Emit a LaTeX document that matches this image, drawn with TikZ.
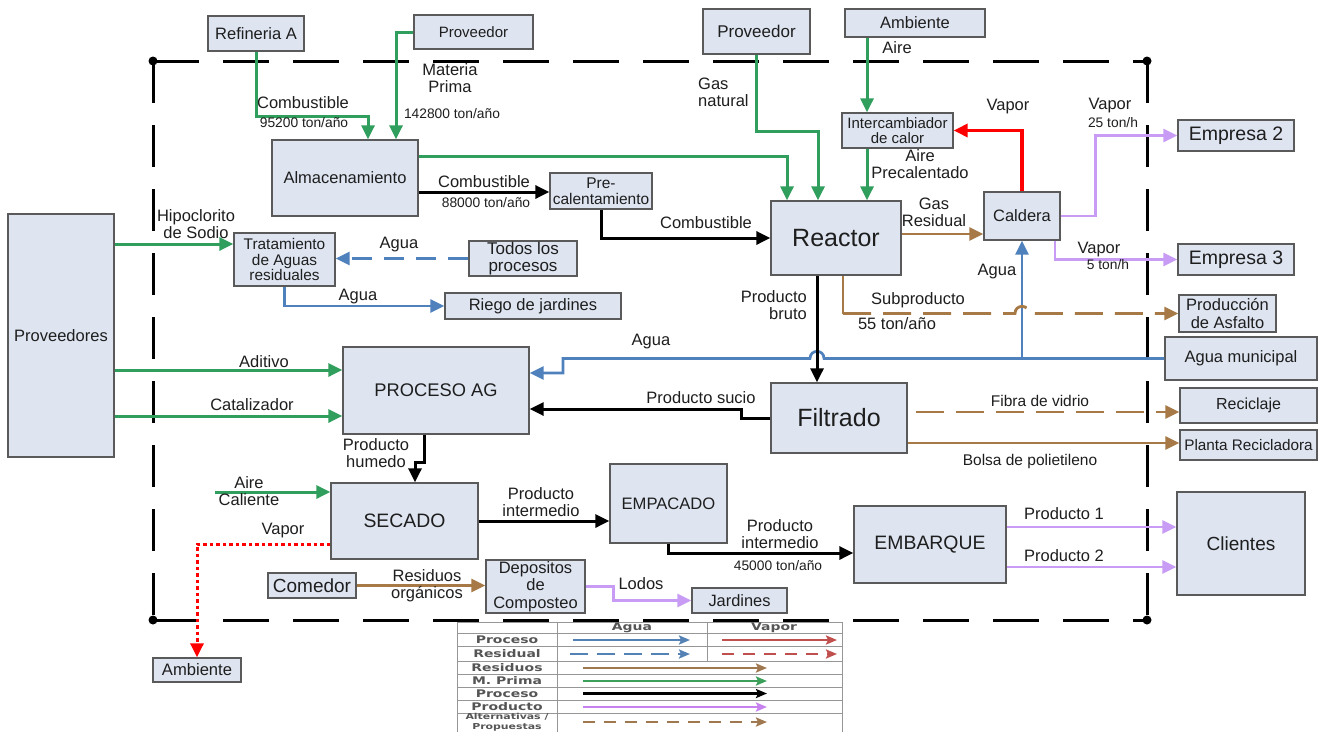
\documentclass[tikz,border=0pt]{standalone}
\usepackage{fontspec}
\setmainfont{Liberation Sans}
\newfontfamily\legfont[FakeStretch=1.33]{DejaVu Sans Bold}
\usetikzlibrary{arrows.meta}

\definecolor{boxfill}{RGB}{222,229,241}
\definecolor{boxline}{RGB}{90,90,90}
\definecolor{mpgreen}{RGB}{48,158,92}
\definecolor{aguablue}{RGB}{79,129,189}
\definecolor{resbrown}{RGB}{166,121,70}
\definecolor{prodpurple}{RGB}{200,155,245}
\definecolor{vaporred}{RGB}{255,0,0}
\definecolor{legred}{RGB}{192,80,77}
\definecolor{legblue}{RGB}{84,130,180}
\definecolor{leggreen}{RGB}{60,160,90}
\definecolor{legpurple}{RGB}{200,130,240}
\definecolor{legbrown}{RGB}{160,120,80}
\definecolor{legtext}{RGB}{85,85,85}
\definecolor{tabline}{RGB}{150,150,150}
\definecolor{txt}{RGB}{30,30,30}

\newcommand{\fsz}[1]{\fontsize{#1}{17}\selectfont}
\newcommand{\fszb}[2]{\fontsize{#1}{#2}\selectfont}

\tikzset{
  box/.style={draw=boxline, line width=1.3pt, fill=boxfill, inner sep=1pt,
    align=center, text=txt},
  lab/.style={font=\fsz{16.5}, align=center, inner sep=0pt, text=txt},
  labsmall/.style={font=\fsz{13.8}, align=center, inner sep=0pt, text=txt},
  flow/.style={line width=3pt, -{Triangle[length=14pt,width=13pt]}},
  mp/.style={flow, draw=mpgreen},
  agua/.style={flow, draw=aguablue, line width=2.7pt},
  res/.style={flow, draw=resbrown, line width=2.8pt},
  prod/.style={flow, draw=prodpurple, line width=2.8pt},
  proc/.style={flow, draw=black},
  vap/.style={flow, draw=vaporred, line width=3.3pt},
  border/.style={line width=3pt, draw=black},
  tab/.style={draw=tabline, line width=0.9pt},
  legtxt/.style={font=\legfont\fontsize{10.5}{11}\selectfont, text=legtext, inner sep=0pt},
  legarrow/.style={line width=2.4pt, -{Stealth[length=11pt,width=9pt,inset=2pt]}}
}

\begin{document}
\begin{tikzpicture}[x=1pt,y=-1pt]
\useasboundingbox (0,0) rectangle (1320,731);
\fill[white] (0,0) rectangle (1320,731);

% ---------- plant boundary ----------
\coordinate (bTL) at (153,61);
\coordinate (bTR) at (1147,61);
\coordinate (bBL) at (153,620);
\coordinate (bBR) at (1147,620);
\draw[border, dash pattern=on 46pt off 24pt] (bTL) -- (bTR);
\draw[border, dash pattern=on 46pt off 24pt] (bBL) -- (bBR);
\draw[border, dash pattern=on 42pt off 22pt] (bTL) -- (bBL);
\draw[border, dash pattern=on 42pt off 22pt] (bTR) -- (bBR);
\foreach \c in {bTL,bTR,bBL,bBR} \fill (\c) circle[radius=4.5pt];

% ---------- blocks ----------
\node[box, minimum width=96pt, minimum height=35pt, font=\fsz{16.5}] (refA) at (256,33.5) {Refineria A};
\node[box, minimum width=119pt, minimum height=34pt, font=\fsz{15}] (prov1) at (473.5,32) {Proveedor};
\node[box, minimum width=107pt, minimum height=45pt, font=\fsz{17}] (prov2) at (756.5,31.5) {Proveedor};
\node[box, minimum width=140pt, minimum height=28pt, font=\fsz{16.5}] (ambT) at (915,23) {Ambiente};
\node[box, minimum width=146pt, minimum height=76pt, font=\fsz{16.5}] (alma) at (345,178) {Almacenamiento};
\node[box, minimum width=102pt, minimum height=36pt, font=\fszb{15.5}{16}] (precal) at (601,191) {Pre-\\calentamiento};
\node[box, minimum width=130pt, minimum height=74pt, font=\fsz{25}] (reactor) at (836,238) {Reactor};
\node[box, minimum width=111pt, minimum height=35pt, font=\fszb{15}{15.5}] (inter) at (897.5,130.5) {Intercambiador\\de calor};
\node[box, minimum width=76pt, minimum height=48pt, font=\fsz{16.5}] (caldera) at (1022,216) {Caldera};
\node[box, minimum width=116pt, minimum height=31pt, font=\fsz{19.5}] (emp2) at (1236,135.5) {Empresa 2};
\node[box, minimum width=116pt, minimum height=31pt, font=\fsz{19.5}] (emp3) at (1236,259.5) {Empresa 3};
\node[box, minimum width=97pt, minimum height=37pt, font=\fszb{16.5}{18}] (asf) at (1227.5,313.5) {Producción\\de Asfalto};
\node[box, minimum width=152pt, minimum height=43pt, font=\fsz{16.5}] (aguam) at (1241,358.5) {Agua municipal};
\node[box, minimum width=137pt, minimum height=35pt, font=\fsz{16}] (recic) at (1248.5,405.5) {Reciclaje};
\node[box, minimum width=137pt, minimum height=30pt, font=\fsz{15.3}] (planta) at (1248.5,445) {Planta Recicladora};
\node[box, minimum width=136pt, minimum height=70pt, font=\fsz{25}] (filtrado) at (839,418) {Filtrado};
\node[box, minimum width=186pt, minimum height=87pt, font=\fsz{18.3}] (procag) at (436,390.5) {PROCESO AG};
\node[box, minimum width=147pt, minimum height=76pt, font=\fsz{19.4}] (secado) at (404.5,521) {SECADO};
\node[box, minimum width=117pt, minimum height=79pt, font=\fsz{16.6}] (empac) at (668.5,503.5) {EMPACADO};
\node[box, minimum width=152pt, minimum height=77pt, font=\fsz{19.4}] (embarque) at (930,544.5) {EMBARQUE};
\node[box, minimum width=128pt, minimum height=103pt, font=\fsz{19}] (clientes) at (1241,543.5) {Clientes};
\node[box, minimum width=95pt, minimum height=25pt, font=\fsz{16.4}] (jardines) at (739.5,600.5) {Jardines};
\node[box, minimum width=99pt, minimum height=53pt, font=\fszb{16.5}{17.5}] (depos) at (535.5,586.5) {Depositos\\de\\Composteo};
\node[box, minimum width=88pt, minimum height=25pt, font=\fsz{19}] (comedor) at (312,585.5) {Comedor};
\node[box, minimum width=88pt, minimum height=24pt, font=\fsz{16.6}] (ambB) at (197,670) {Ambiente};
\node[box, minimum width=106pt, minimum height=243pt, font=\fsz{16.5}] (provs) at (61,335.5) {Proveedores};
\node[box, minimum width=101pt, minimum height=53pt, font=\fszb{15.4}{15.7}] (trat) at (284.5,259.5) {Tratamiento\\de Aguas\\residuales};
\node[box, minimum width=108pt, minimum height=35pt, font=\fszb{17}{17}] (todos) at (523,258.5) {Todos los\\procesos};
\node[box, minimum width=176pt, minimum height=26pt, font=\fsz{16.5}] (riego) at (533,306) {Riego de jardines};

% ---------- raw material (green) ----------
\draw[mp] (refA.south) -- ++(0,65) -| ([xshift=23pt]alma.north);
\draw[mp] (prov1.west) -| ([xshift=51pt]alma.north);
\draw[mp] ([yshift=22pt]alma.east) -| ([xshift=-49pt]reactor.north);
\draw[mp] (prov2.south) -- ++(0,77) -| ([xshift=-18pt]reactor.north);
\draw[mp] ([xshift=-48pt]ambT.south) -- ([xshift=-30.5pt]inter.north);
\draw[mp] ([xshift=-30.5pt]inter.south) -- ([xshift=31pt]reactor.north);
\draw[mp] ([yshift=91.5pt]provs.east) -- ([yshift=15.5pt]trat.west);
\draw[mp] ([yshift=-34.5pt]provs.east) -- ([yshift=20.5pt]procag.west);
\draw[mp] ([yshift=-80.5pt]provs.east) -- ([yshift=-25.5pt]procag.west);
\coordinate (aireIn) at (215,492);
\draw[mp] (aireIn) -- ([yshift=29pt]secado.west);

% ---------- water (blue) ----------
\draw[agua, dash pattern=on 20pt off 12pt] (todos.west) -- (todos.west -| trat.east);
\draw[agua] (trat.south) |- (riego.west);
\draw[agua] (aguam.west) -- (824,358.5) .. controls (824,349) and (810,349) .. (810,358.5)
  -- (563,358.5) |- ([yshift=17.5pt]procag.east);
\coordinate (jAgua) at (caldera.south |- aguam.west);
\draw[agua] (jAgua) -- (caldera.south);

% ---------- steam (red) ----------
\draw[vap] (caldera.north) |- (inter.east);
\draw[vap, line width=3pt, dash pattern=on 3.5pt off 3pt] ([yshift=-23pt]secado.west) -| (ambB.north);

% ---------- product (purple) ----------
\draw[prod] (caldera.east) -- ++(35,0) |- (emp2.west);
\draw[prod] ([xshift=33pt]caldera.south) |- (emp3.west);
\draw[prod] (depos.east) -- ++(28,0) |- (jardines.west);
\draw[prod] ([yshift=17.5pt]embarque.east) -- ([yshift=17.5pt]embarque.east -| clientes.west);
\draw[prod] ([yshift=-22.5pt]embarque.east) -- ([yshift=-22.5pt]embarque.east -| clientes.west);

% ---------- residues (brown) ----------
\draw[res] ([yshift=4pt]reactor.east) -- ([yshift=4pt]reactor.east -| caldera.west);
\coordinate (subK) at ([xshift=7pt]reactor.south |- asf.west);
\draw[res, -] ([xshift=7pt]reactor.south) -- (subK);
\draw[res, dash pattern=on 28pt off 12pt] (subK) -- (1015,313.5)
  .. controls (1015,304) and (1029,304) .. (1029,313.5) -- (subK -| asf.west);
\draw[res, dash pattern=on 28pt off 12pt, dash phase=-8pt] ([yshift=6pt]filtrado.east) -- ([yshift=6pt]filtrado.east -| recic.west);
\draw[res] ([yshift=-25pt]filtrado.east) -- ([yshift=-25pt]filtrado.east -| planta.west);
\draw[res] (comedor.east) -- (comedor.east -| depos.west);

% ---------- process (black) ----------
\draw[proc] ([yshift=-14pt]alma.east) -- ([yshift=-14pt]alma.east -| precal.west);
\draw[proc] (precal.south) |- (reactor.west);
\draw[proc] ([xshift=-19pt]reactor.south) -- ([xshift=-19pt]reactor.south |- filtrado.north);
\draw[proc] (filtrado.west) -- ++(-29,0) |- ([yshift=-18.5pt]procag.east);
\draw[proc] ([xshift=-12pt]procag.south) -- ++(0,28) -| ([xshift=10.5pt]secado.north);
\draw[proc] (secado.east) -- (secado.east -| empac.west);
\draw[proc] (empac.south) |- ([yshift=-8.5pt]embarque.west);

% ---------- flow labels ----------
\node[lab] (lCombA) at (303,103) {Combustible};
\node[labsmall] (lCombAt) at (304,123) {95200 ton/año};
\node[lab] (lMP) at (450,78) {Materia\\Prima};
\node[labsmall] (lMPt) at (452,114) {142800 ton/año};
\node[lab, anchor=west, align=left] (lGas) at (698,92) {Gas\\natural};
\node[lab] (lAire) at (897,48) {Aire};
\node[lab] (lVapR) at (1008,107) {Vapor};
\node[lab] (lVap2) at (1110,106) {Vapor};
\node[labsmall] (lVap2t) at (1113,123) {25 ton/h};
\node[lab] (lAirePre) at (920,164) {Aire\\Precalentado};
\node[lab] (lGasRes) at (934,212) {Gas\\Residual};
\node[lab] (lCombR) at (706,223) {Combustible};
\node[lab] (lCombP) at (484,182) {Combustible};
\node[labsmall] (lCombPt) at (486,203) {88000 ton/año};
\node[lab] (lHipo) at (196,224) {Hipoclorito\\de Sodio};
\node[lab] (lAguaT) at (399,245) {Agua};
\node[lab] (lAguaR) at (358,297) {Agua};
\node[lab] (lAdit) at (264,362) {Aditivo};
\node[lab] (lCat) at (252,405) {Catalizador};
\node[lab] (lAguaP) at (651,342) {Agua};
\node[lab] (lSucio) at (701,398) {Producto sucio};
\node[lab] (lHum) at (376,453) {Producto\\humedo};
\node[lab] (lInt1) at (541,502) {Producto\\intermedio};
\node[lab] (lInt2) at (780,534) {Producto\\intermedio};
\node[labsmall] (lInt2t) at (778,566) {45000 ton/año};
\node[lab] (lAireC) at (249,491) {Aire\\Caliente};
\node[lab] (lVapS) at (283,531) {Vapor};
\node[lab] (lResOrg) at (427,586) {Residuos\\orgánicos};
\node[lab] (lLodos) at (641,584) {Lodos};
\node[lab, anchor=east, align=right] (lBruto) at (807,305) {Producto\\bruto};
\node[lab] (lSub) at (918,300) {Subproducto};
\node[lab] (lSubt) at (897,324) {55 ton/año};
\node[lab] (lAguaC) at (997,272) {Agua};
\node[lab] (lVap3) at (1099,250) {Vapor};
\node[labsmall] (lVap3t) at (1108,265) {5 ton/h};
\node[lab, font=\fsz{15.5}] (lFibra) at (1040,401) {Fibra de vidrio};
\node[lab, font=\fsz{15.5}] (lBolsa) at (1030,461) {Bolsa de polietileno};
\node[lab] (lP1) at (1064,514) {Producto 1};
\node[lab] (lP2) at (1064,556) {Producto 2};

% ---------- legend ----------
\fill[white] (457,622) rectangle (842,740);
\foreach \y in {622,633,646,661,674,687,700,713}
  \draw[tab] (457,\y) -- (842,\y);
\draw[tab] (457,622) -- (457,740);
\draw[tab] (557,622) -- (557,740);
\draw[tab] (707,622) -- (707,661);
\draw[tab] (842,622) -- (842,740);

\node[legtxt] (hAgua) at (632,627.5) {Agua};
\node[legtxt] (hVapor) at (774,627.5) {Vapor};
\node[legtxt] (tProc1) at (507,640) {Proceso};
\node[legtxt] (tResid) at (507,654) {Residual};
\node[legtxt] (tResiduos) at (507,668) {Residuos};
\node[legtxt] (tMP) at (507,681) {M. Prima};
\node[legtxt] (tProc2) at (507,693.5) {Proceso};
\node[legtxt] (tProd) at (507,707) {Producto};
\node[legtxt, font=\legfont\fontsize{8.2}{9.5}\selectfont, align=center] (tAlt) at (507,722) {Alternativas /\\Propuestas};

\coordinate (gA1a) at (573,640);  \coordinate (gA1b) at (690,640);
\coordinate (gA2a) at (570,654);  \coordinate (gA2b) at (690,654);
\coordinate (gV1a) at (722,640);  \coordinate (gV1b) at (837,640);
\coordinate (gV2a) at (722,654);  \coordinate (gV2b) at (837,654);
\coordinate (gRa) at (583,668);   \coordinate (gRb) at (767,668);
\coordinate (gMa) at (583,681);   \coordinate (gMb) at (767,681);
\coordinate (gPa) at (583,693.5); \coordinate (gPb) at (767,693.5);
\coordinate (gPra) at (583,707);  \coordinate (gPrb) at (767,707);
\coordinate (gAla) at (583,722);  \coordinate (gAlb) at (767,722);

\draw[legarrow, draw=legblue] (gA1a) -- (gA1b);
\draw[legarrow, draw=legblue, dash pattern=on 18pt off 9pt] (gA2a) -- (gA2b);
\draw[legarrow, draw=legred] (gV1a) -- (gV1b);
\draw[legarrow, draw=legred, dash pattern=on 12pt off 9pt] (gV2a) -- (gV2b);
\draw[legarrow, draw=legbrown] (gRa) -- (gRb);
\draw[legarrow, draw=leggreen] (gMa) -- (gMb);
\draw[legarrow, draw=black] (gPa) -- (gPb);
\draw[legarrow, draw=legpurple] (gPra) -- (gPrb);
\draw[legarrow, draw=legbrown, dash pattern=on 12pt off 9pt] (gAla) -- (gAlb);
\end{tikzpicture}
\end{document}
